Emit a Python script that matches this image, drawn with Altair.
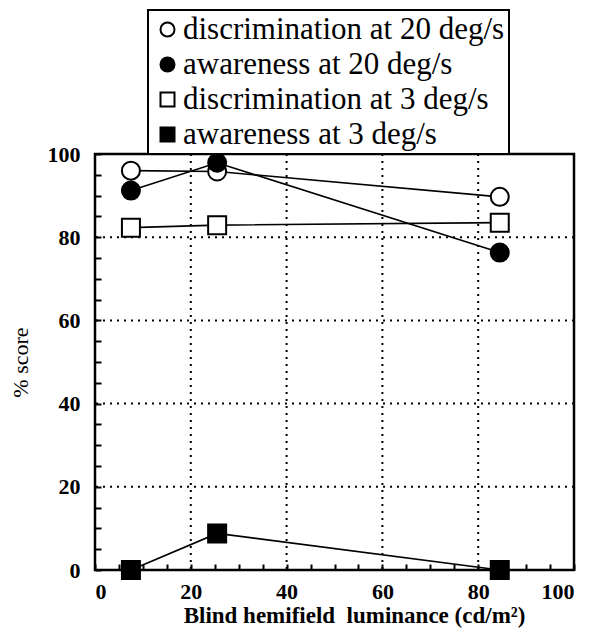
import altair as alt
import pandas as pd

# ---- data ----
series_names = [
    "discrimination at 20 deg/s",
    "awareness at 20 deg/s",
    "discrimination at 3 deg/s",
    "awareness at 3 deg/s",
]
luminance = [7.5, 25.5, 84.5]
disc_20 = [96.0, 95.8, 89.7]
aware_20 = [91.2, 97.9, 76.3]
disc_3 = [82.3, 82.9, 83.5]
aware_3 = [0.0, 8.8, 0.0]

x_tick_values = list(range(0, 101, 5))
y_tick_values = list(range(0, 101, 5))
grid_x = [20, 40, 60, 80]
grid_y = [20, 40, 60, 80]

rows = []
for name, vals in zip(series_names, [disc_20, aware_20, disc_3, aware_3]):
    for x, y in zip(luminance, vals):
        rows.append({"series": name, "lum": x, "score": y})
df = pd.DataFrame(rows)
gx = pd.DataFrame({"g": grid_x})
gy = pd.DataFrame({"g": grid_y})

FONT = "Liberation Serif"
W, H = 479, 416

xscale = alt.Scale(domain=[0, 100], nice=False, zero=False)
yscale = alt.Scale(domain=[0, 100], nice=False, zero=False)

x_axis = alt.Axis(
    values=x_tick_values,
    labelExpr="datum.value % 20 == 0 ? datum.label : ''",
    offset=-6, tickSize=6, tickWidth=2, tickColor="black",
    domain=False, grid=False,
    labelFont=FONT, labelFontSize=22, labelFontWeight="bold", labelColor="black",
    labelPadding=11,
    title="Blind hemifield\u00a0 luminance (cd/m²)",
    titleFont=FONT, titleFontSize=23, titleFontWeight="bold", titleColor="black",
    titleX=259, titleY=51, titleBaseline="middle", titleAlign="center",
)
y_axis = alt.Axis(
    values=y_tick_values,
    labelExpr="datum.value % 20 == 0 ? datum.label : ''",
    offset=-6, tickSize=6, tickWidth=2, tickColor="black",
    domain=False, grid=False,
    labelFont=FONT, labelFontSize=22, labelFontWeight="bold", labelColor="black",
    labelPadding=15,
    title="% score",
    titleFont=FONT, titleFontSize=22, titleFontWeight="normal", titleColor="black",
    titleX=-81, titleY=208, titleAngle=-90, titleBaseline="middle", titleAlign="center",
)

grid_dash = [2, 5]
vgrid = alt.Chart(gx).mark_rule(color="black", strokeWidth=2, strokeDash=grid_dash).encode(
    x=alt.X("g:Q", scale=xscale, axis=x_axis)
)
hgrid = alt.Chart(gy).mark_rule(color="black", strokeWidth=2, strokeDash=grid_dash).encode(
    y=alt.Y("g:Q", scale=yscale, axis=y_axis)
)

lines = alt.Chart(df).mark_line(color="black", strokeWidth=1.6).encode(
    x=alt.X("lum:Q", scale=xscale, axis=x_axis),
    y=alt.Y("score:Q", scale=yscale, axis=y_axis),
    detail="series:N",
)

legend = alt.Legend(
    orient="none", legendX=53, legendY=-144, direction="vertical",
    strokeColor="black", fillColor="white", padding=4,
    labelFont=FONT, labelFontSize=31, labelColor="black", labelLimit=0,
    labelOffset=0, rowPadding=3, symbolSize=196,
    symbolStrokeColor="black", symbolStrokeWidth=2,
)
points = alt.Chart(df).mark_point(filled=False, size=324, color="black", strokeWidth=2, opacity=1).encode(
    x=alt.X("lum:Q", scale=xscale, axis=x_axis),
    y=alt.Y("score:Q", scale=yscale, axis=y_axis),
    shape=alt.Shape("series:N", title=None,
                    scale=alt.Scale(domain=series_names, range=["circle", "circle", "square", "square"]),
                    legend=legend),
    fill=alt.Fill("series:N", title=None,
                  scale=alt.Scale(domain=series_names, range=["white", "black", "white", "black"]),
                  legend=legend),
    stroke=alt.Stroke("series:N", title=None,
                      scale=alt.Scale(domain=series_names, range=["black", "black", "black", "black"]),
                      legend=legend),
)

chart = alt.layer(vgrid, hgrid, lines, points).properties(
    width=W, height=H,
    autosize=alt.AutoSizeParams(type="none"),
    padding={"left": 87, "top": 146, "right": 5, "bottom": 58},
    background="white",
).configure_view(stroke="black", strokeWidth=2.5).configure_legend(strokeWidth=2).configure_axis(
    labelFont=FONT, titleFont=FONT, labelColor="black", titleColor="black"
)

chart.save("out.html", embed_options={"renderer": "svg", "actions": False})
